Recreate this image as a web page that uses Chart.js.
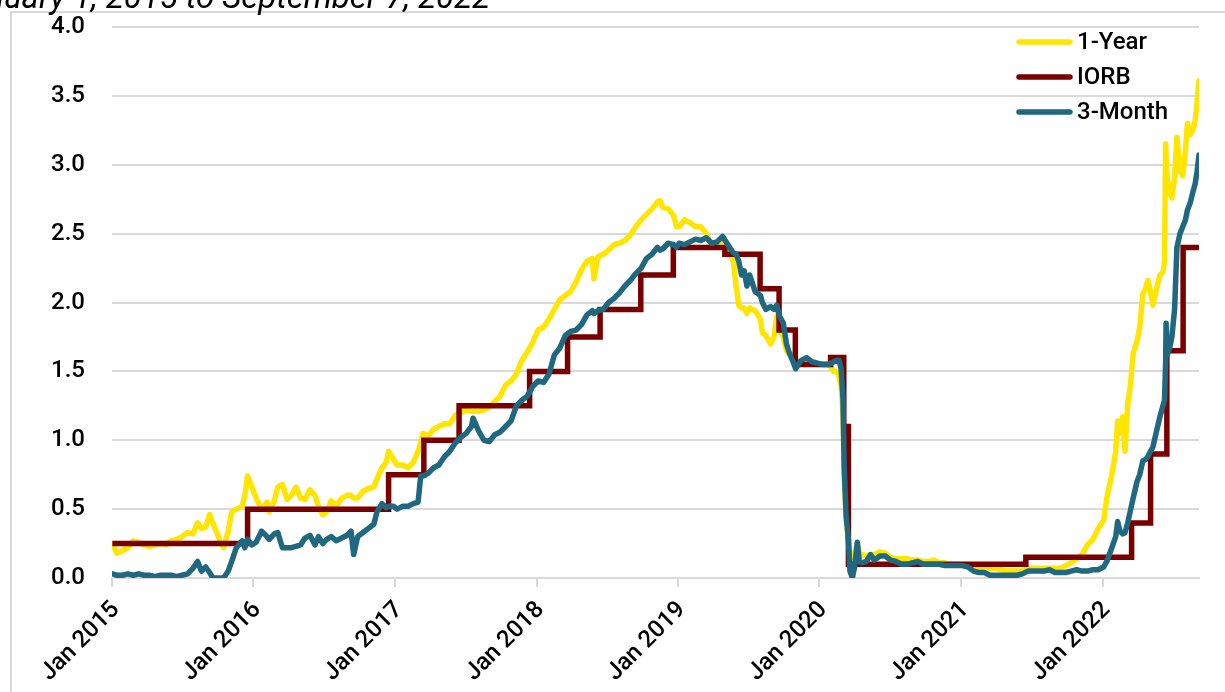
<!DOCTYPE html>
<html>
<head>
<meta charset="utf-8">
<script src="https://cdn.jsdelivr.net/npm/chart.js@4.4.1/dist/chart.umd.min.js"></script>
<style>
html,body{margin:0;padding:0;background:#fff;overflow:hidden;}
canvas{display:block;}
</style>
</head>
<body>
<canvas id="c" width="1225" height="692"></canvas>
<script>
// ---------------- DATA ----------------
const titleText = 'January 1, 2015 to September 7, 2022';
const seriesNames = ['1-Year', 'IORB', '3-Month'];
const seriesColors = ['#FFE500', '#7A0000', '#1F687F'];
const yTickValues = [0, 0.5, 1, 1.5, 2, 2.5, 3, 3.5, 4];
const xTickYears = [2015, 2016, 2017, 2018, 2019, 2020, 2021, 2022];

// shared observation dates for the two Treasury series
const yieldDates = [
  '2015-01-02','2015-01-14','2015-01-28','2015-02-11','2015-02-25','2015-03-11','2015-03-25','2015-04-08','2015-04-22','2015-05-06','2015-05-20','2015-06-03','2015-06-17','2015-07-01','2015-07-15','2015-07-29','2015-08-10','2015-08-20','2015-08-31','2015-09-10','2015-09-18','2015-09-30','2015-10-08','2015-10-16','2015-10-28','2015-11-06','2015-11-18','2015-12-03','2015-12-10','2015-12-17','2015-12-28',
  '2016-01-08','2016-01-22','2016-02-05','2016-02-11','2016-02-24','2016-03-04','2016-03-16','2016-03-28','2016-04-08','2016-04-20','2016-05-02','2016-05-13','2016-05-26','2016-06-08','2016-06-17','2016-06-28','2016-07-08','2016-07-20','2016-08-02','2016-08-16','2016-08-30','2016-09-09','2016-09-16','2016-09-26','2016-10-10','2016-10-24','2016-11-07','2016-11-15','2016-11-28','2016-12-09','2016-12-15','2016-12-28',
  '2017-01-06','2017-01-20','2017-02-03','2017-02-17','2017-03-01','2017-03-08','2017-03-14','2017-03-27','2017-04-10','2017-04-24','2017-05-08','2017-05-22','2017-06-05','2017-06-19','2017-07-03','2017-07-17','2017-07-21','2017-08-04','2017-08-18','2017-09-01','2017-09-15','2017-09-29','2017-10-13','2017-10-27','2017-11-10','2017-11-24','2017-12-08','2017-12-22',
  '2018-01-05','2018-01-19','2018-02-02','2018-02-16','2018-03-02','2018-03-16','2018-03-30','2018-04-13','2018-04-27','2018-05-11','2018-05-25','2018-05-29','2018-06-08','2018-06-22','2018-07-06','2018-07-20','2018-08-03','2018-08-17','2018-08-31','2018-09-14','2018-09-28','2018-10-12','2018-10-26','2018-11-09','2018-11-16','2018-11-23','2018-12-07','2018-12-21','2018-12-28',
  '2019-01-04','2019-01-18','2019-02-01','2019-02-15','2019-03-01','2019-03-15','2019-03-29','2019-04-12','2019-04-26','2019-05-10','2019-05-24','2019-05-31','2019-06-07','2019-06-14','2019-06-21','2019-06-28','2019-07-05','2019-07-19','2019-08-02','2019-08-07','2019-08-16','2019-08-28','2019-09-06','2019-09-13','2019-09-20','2019-09-30','2019-10-08','2019-10-16','2019-10-25','2019-11-01','2019-11-15','2019-11-29','2019-12-13','2019-12-27',
  '2020-01-10','2020-01-24','2020-02-07','2020-02-14','2020-02-21','2020-02-26','2020-03-02','2020-03-05','2020-03-10','2020-03-16','2020-03-20','2020-03-26','2020-04-01','2020-04-08','2020-04-13','2020-04-20','2020-05-01','2020-05-12','2020-05-22','2020-06-05','2020-06-19','2020-07-03','2020-07-17','2020-07-31','2020-08-14','2020-08-28','2020-09-11','2020-09-25','2020-10-09','2020-10-23','2020-11-06','2020-11-20','2020-12-04','2020-12-18',
  '2021-01-04','2021-01-19','2021-02-02','2021-02-16','2021-03-02','2021-03-16','2021-03-30','2021-04-13','2021-04-27','2021-05-11','2021-05-25','2021-06-08','2021-06-22','2021-07-06','2021-07-20','2021-08-03','2021-08-17','2021-08-31','2021-09-14','2021-09-28','2021-10-12','2021-10-26','2021-11-09','2021-11-23','2021-12-07','2021-12-21',
  '2022-01-04','2022-01-12','2022-01-25','2022-02-04','2022-02-09','2022-02-15','2022-02-22','2022-02-28','2022-03-07','2022-03-14','2022-03-21','2022-03-31','2022-04-07','2022-04-15','2022-04-22','2022-04-28','2022-05-05','2022-05-11','2022-05-19','2022-05-29','2022-06-06','2022-06-10','2022-06-13','2022-06-14','2022-06-17','2022-06-24','2022-06-29','2022-07-06','2022-07-12','2022-07-20','2022-07-27','2022-08-03','2022-08-08','2022-08-15','2022-08-22','2022-08-28','2022-09-02','2022-09-07'
];

const oneYearValues = [
  0.25,0.18,0.20,0.22,0.27,0.26,0.24,0.23,0.24,0.25,0.24,0.27,0.28,0.30,0.33,0.32,0.40,0.36,0.37,0.46,0.40,0.32,0.26,0.22,0.34,0.48,0.50,0.52,0.60,0.74,0.66,
  0.58,0.50,0.55,0.48,0.56,0.66,0.68,0.57,0.60,0.66,0.58,0.57,0.64,0.60,0.52,0.46,0.48,0.56,0.52,0.58,0.60,0.60,0.58,0.58,0.63,0.65,0.66,0.72,0.80,0.84,0.92,0.86,
  0.82,0.82,0.80,0.84,0.92,0.98,1.05,1.03,1.08,1.10,1.12,1.12,1.18,1.20,1.22,1.21,1.21,1.21,1.22,1.24,1.28,1.32,1.40,1.43,1.48,1.58,1.64,1.71,
  1.80,1.82,1.88,1.95,2.02,2.05,2.08,2.15,2.24,2.30,2.32,2.17,2.33,2.35,2.38,2.42,2.43,2.45,2.49,2.55,2.60,2.64,2.68,2.73,2.74,2.69,2.68,2.63,2.55,
  2.55,2.60,2.58,2.55,2.55,2.50,2.42,2.43,2.45,2.38,2.30,2.12,1.98,1.96,1.96,1.92,1.96,1.94,1.88,1.78,1.76,1.70,1.75,1.90,1.80,1.75,1.65,1.62,1.62,1.56,1.57,1.57,1.56,1.55,
  1.55,1.56,1.50,1.50,1.46,1.40,1.20,0.80,0.45,0.25,0.18,0.15,0.17,0.25,0.18,0.17,0.16,0.17,0.17,0.19,0.18,0.15,0.14,0.14,0.14,0.13,0.13,0.12,0.12,0.13,0.11,0.11,0.10,0.10,
  0.10,0.09,0.08,0.07,0.08,0.07,0.07,0.06,0.05,0.05,0.05,0.05,0.07,0.07,0.07,0.07,0.07,0.07,0.07,0.09,0.11,0.14,0.17,0.24,0.28,0.36,
  0.42,0.58,0.75,0.92,1.14,1.05,1.17,0.92,1.26,1.40,1.63,1.72,1.82,2.06,2.10,2.16,2.08,1.98,2.08,2.20,2.22,2.30,3.15,3.05,2.90,2.80,2.76,2.90,3.20,2.96,2.92,3.10,3.30,3.22,3.25,3.32,3.45,3.61
];

const threeMonthValues = [
  0.03,0.02,0.02,0.03,0.02,0.03,0.02,0.02,0.01,0.02,0.02,0.02,0.01,0.02,0.03,0.07,0.12,0.05,0.08,0.04,0.00,0.00,0.00,0.00,0.05,0.12,0.22,0.27,0.22,0.28,0.24,
  0.26,0.34,0.30,0.28,0.32,0.33,0.22,0.22,0.22,0.23,0.24,0.29,0.31,0.24,0.30,0.25,0.28,0.30,0.27,0.29,0.31,0.34,0.17,0.30,0.33,0.36,0.39,0.48,0.54,0.51,0.52,0.52,
  0.50,0.52,0.52,0.54,0.55,0.74,0.74,0.76,0.80,0.82,0.88,0.92,0.98,1.02,1.05,1.10,1.16,1.07,1.00,0.99,1.04,1.06,1.10,1.14,1.25,1.29,1.32,1.39,
  1.43,1.42,1.48,1.62,1.67,1.76,1.79,1.80,1.84,1.91,1.94,1.92,1.94,1.95,2.00,2.03,2.07,2.12,2.16,2.21,2.25,2.32,2.35,2.40,2.38,2.39,2.43,2.42,2.40,
  2.43,2.42,2.44,2.46,2.45,2.47,2.43,2.44,2.48,2.42,2.36,2.35,2.30,2.20,2.23,2.12,2.20,2.08,2.05,2.00,1.95,1.97,1.95,1.98,1.90,1.85,1.70,1.63,1.57,1.52,1.58,1.60,1.57,1.56,
  1.55,1.55,1.57,1.58,1.58,1.52,1.30,0.80,0.45,0.28,0.05,0.00,0.08,0.26,0.12,0.11,0.12,0.17,0.13,0.16,0.16,0.13,0.12,0.10,0.10,0.11,0.12,0.10,0.10,0.10,0.10,0.09,0.09,0.09,
  0.09,0.08,0.05,0.04,0.04,0.02,0.02,0.02,0.02,0.02,0.02,0.03,0.05,0.05,0.05,0.05,0.06,0.04,0.04,0.04,0.05,0.06,0.05,0.05,0.06,0.06,
  0.08,0.12,0.22,0.30,0.41,0.34,0.32,0.33,0.40,0.49,0.58,0.70,0.75,0.85,0.86,0.88,0.92,0.95,1.05,1.17,1.25,1.29,1.58,1.85,1.62,1.68,1.75,1.95,2.40,2.50,2.55,2.60,2.67,2.72,2.80,2.86,2.95,3.07
];

// IORB (interest on reserve balances) change dates and levels
const iorbDates = ['2015-01-02','2015-12-17','2016-12-15','2017-03-16','2017-06-15','2017-12-14','2018-03-22','2018-06-14','2018-09-27','2018-12-20','2019-05-02','2019-08-01','2019-09-19','2019-10-31','2020-01-30','2020-03-04','2020-03-16','2021-06-17','2022-03-17','2022-05-05','2022-06-16','2022-07-28','2022-09-07'];
const iorbValues = [0.25,0.50,0.75,1.00,1.25,1.50,1.75,1.95,2.20,2.40,2.35,2.10,1.80,1.55,1.60,1.10,0.10,0.15,0.40,0.90,1.65,2.40,2.40];

// ---------------- CHART ----------------
const EPOCH = Date.parse('2015-01-01');
const dayOf = s => Math.round((Date.parse(s) - EPOCH) / 86400000);
const yearOfDay = d => new Date(EPOCH + d * 86400000).getUTCFullYear();
const pts = (dates, vals) => dates.map((d, i) => ({ x: dayOf(d), y: vals[i] }));

const FONT = 'Roboto, "Noto Sans", sans-serif';
const GRID = '#d9d9d9';

const decor = {
  id: 'decor',
  beforeDraw(chart) {
    const ctx = chart.ctx;
    ctx.save();
    ctx.fillStyle = '#ffffff';
    ctx.fillRect(0, 0, chart.width, chart.height);
    ctx.strokeStyle = GRID;
    ctx.lineWidth = 2;
    ctx.beginPath();
    ctx.moveTo(11, chart.height + 2);
    ctx.lineTo(11, 12);
    ctx.lineTo(chart.width + 2, 12);
    ctx.stroke();
    ctx.font = 'italic 33px ' + FONT;
    ctx.fillStyle = '#000';
    ctx.textAlign = 'right';
    ctx.textBaseline = 'alphabetic';
    ctx.fillText(titleText, 490, 8);
    ctx.restore();
  },
  afterDraw(chart) {
    const ctx = chart.ctx;
    ctx.save();
    const x0 = 1019, x1 = 1070, tx = 1077;
    const ys = [42, 77, 112];
    seriesNames.forEach((name, i) => {
      ctx.strokeStyle = seriesColors[i];
      ctx.lineWidth = 5.5;
      ctx.lineCap = 'round';
      ctx.beginPath();
      ctx.moveTo(x0, ys[i]);
      ctx.lineTo(x1, ys[i]);
      ctx.stroke();
      ctx.font = '500 24px ' + FONT;
      ctx.fillStyle = '#000';
      ctx.textAlign = 'left';
      ctx.textBaseline = 'middle';
      ctx.fillText(name, tx, ys[i] + 1);
    });
    ctx.restore();
  }
};

const lineStyle = {
  pointRadius: 0,
  pointHoverRadius: 0,
  borderWidth: 5.5,
  tension: 0,
  fill: false,
  borderJoinStyle: 'round',
  borderCapStyle: 'round'
};

new Chart(document.getElementById('c'), {
  type: 'line',
  data: {
    datasets: [
      Object.assign({ label: seriesNames[0], data: pts(yieldDates, oneYearValues), borderColor: seriesColors[0], order: 3 }, lineStyle),
      Object.assign({ label: seriesNames[1], data: pts(iorbDates, iorbValues), borderColor: seriesColors[1], stepped: true, order: 2 }, lineStyle, { borderJoinStyle: 'miter', borderCapStyle: 'butt' }),
      Object.assign({ label: seriesNames[2], data: pts(yieldDates, threeMonthValues), borderColor: seriesColors[2], order: 1 }, lineStyle)
    ]
  },
  options: {
    responsive: false,
    animation: false,
    devicePixelRatio: 1,
    layout: { autoPadding: false, padding: { top: 27, right: 26, left: 0, bottom: 0 } },
    plugins: { legend: { display: false }, tooltip: { enabled: false }, title: { display: false } },
    scales: {
      x: {
        type: 'linear',
        min: 0,
        max: dayOf('2022-09-07'),
        afterBuildTicks: s => { s.ticks = xTickYears.map(y => ({ value: dayOf(y + '-01-01') })); },
        afterFit: s => { s.height = 114; s.paddingLeft = 0; s.paddingRight = 0; s.paddingTop = 0; s.paddingBottom = 0; },
        ticks: {
          autoSkip: false,
          maxRotation: 45,
          minRotation: 45,
          padding: 9,
          labelOffset: 4,
          color: '#000',
          font: { family: FONT, size: 24, weight: '500' },
          callback: v => 'Jan ' + yearOfDay(v)
        },
        grid: { display: true, drawOnChartArea: false, drawTicks: true, tickLength: 9, color: GRID, lineWidth: 2 },
        border: { display: true, color: GRID, width: 2 }
      },
      y: {
        min: 0,
        max: 4,
        afterBuildTicks: s => { s.ticks = yTickValues.map(v => ({ value: v })); },
        afterFit: s => { s.width = 112; s.paddingLeft = 0; s.paddingRight = 0; s.paddingTop = 0; s.paddingBottom = 0; },
        ticks: {
          padding: 27,
          color: '#000',
          font: { family: FONT, size: 24, weight: '500' },
          callback: v => Number(v).toFixed(1)
        },
        grid: { color: GRID, lineWidth: 2, drawTicks: false },
        border: { display: false }
      }
    }
  },
  plugins: [decor]
});
</script>
</body>
</html>
